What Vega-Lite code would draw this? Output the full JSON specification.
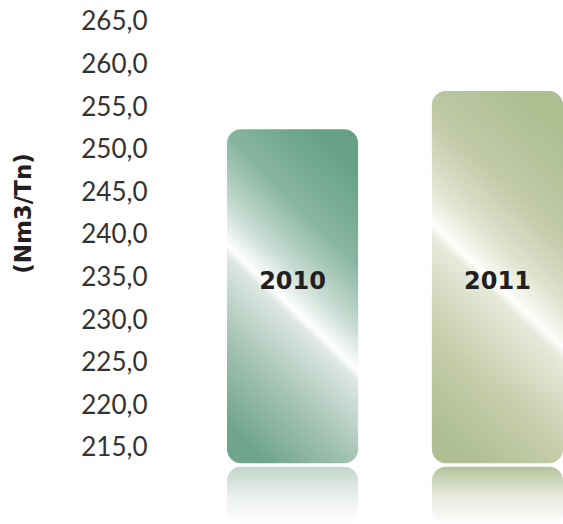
{
  "$schema": "https://vega.github.io/schema/vega-lite/v6.json",
  "width": 413,
  "height": 524,
  "autosize": {"type": "none"},
  "padding": {"left": 150, "top": 0, "right": 0, "bottom": 0},
  "background": "white",
  "config": {"view": {"stroke": null}},
  "data": {"values": [
    {"year": "2010", "value": 252.4},
    {"year": "2011", "value": 256.9}
  ]},
  "encoding": {
    "x": {"field": "year", "type": "nominal", "axis": null,
      "scale": {"range": [77, 413], "paddingInner": 0.36, "paddingOuter": 0}}
  },
  "layer": [
    {
      "transform": [{"filter": "datum.year == '2010'"}],
      "mark": {"type": "bar", "cornerRadius": 14,
        "fill": {"gradient": "linear", "x1": 0.69, "y1": 0, "x2": 0.31, "y2": 1,
          "stops": [
            {"offset": 0, "color": "#65a087"},
            {"offset": 0.25, "color": "#88b5a1"},
            {"offset": 0.42, "color": "#c6dbd1"},
            {"offset": 0.51, "color": "#f3f7f5"},
            {"offset": 0.53, "color": "#ffffff"},
            {"offset": 0.56, "color": "#dde7e2"},
            {"offset": 0.78, "color": "#a3c2b3"},
            {"offset": 1, "color": "#70a58d"}
          ]}},
      "encoding": {
        "y": {"field": "value", "type": "quantitative",
          "scale": {"domain": [206.08, 267.58], "nice": false, "zero": false},
          "axis": {"values": [215, 220, 225, 230, 235, 240, 245, 250, 255, 260, 265],
            "labelExpr": "replace(format(datum.value, '.1f'), '.', ',')",
            "domain": false, "ticks": false, "tickSize": 0, "grid": false,
            "labelPadding": 3, "labelFont": "Lato", "labelFontSize": 26,
            "labelColor": "#333333", "labelFontWeight": "normal",
            "title": "(Nm3/Tn)", "titleFont": "DejaVu Sans", "titleFontSize": 23,
            "titleFontWeight": "bold", "titleColor": "#231f20",
            "titleAngle": -90, "titleX": -127, "titleY": 213,
            "titleAlign": "center", "titleBaseline": "middle"}},
        "y2": {"datum": 213.2}
      }
    },
    {
      "transform": [{"filter": "datum.year == '2011'"}],
      "mark": {"type": "bar", "cornerRadius": 14,
        "fill": {"gradient": "linear", "x1": 0.666, "y1": 0, "x2": 0.334, "y2": 1,
          "stops": [
            {"offset": 0, "color": "#adbe91"},
            {"offset": 0.25, "color": "#c1c9a6"},
            {"offset": 0.42, "color": "#dfe4d0"},
            {"offset": 0.50, "color": "#f6f8f0"},
            {"offset": 0.52, "color": "#ffffff"},
            {"offset": 0.55, "color": "#e6eadb"},
            {"offset": 0.78, "color": "#c6cdaa"},
            {"offset": 1, "color": "#b0bf93"}
          ]}},
      "encoding": {
        "y": {"field": "value", "type": "quantitative"},
        "y2": {"datum": 213.2}
      }
    },
    {
      "transform": [{"filter": "datum.year == '2010'"}],
      "mark": {"type": "bar", "cornerRadius": 14,
        "fill": {"gradient": "linear", "x1": 0, "y1": 0, "x2": 0, "y2": 1,
          "stops": [
            {"offset": 0, "color": "#c2d5cb"},
            {"offset": 0.5, "color": "#eaf0ec"},
            {"offset": 1, "color": "#ffffff"}
          ]}},
      "encoding": {
        "y": {"datum": 212.8},
        "y2": {"datum": 206.0}
      }
    },
    {
      "transform": [{"filter": "datum.year == '2011'"}],
      "mark": {"type": "bar", "cornerRadius": 14,
        "fill": {"gradient": "linear", "x1": 0, "y1": 0, "x2": 0, "y2": 1,
          "stops": [
            {"offset": 0, "color": "#b3c299"},
            {"offset": 0.5, "color": "#e6eadb"},
            {"offset": 1, "color": "#ffffff"}
          ]}},
      "encoding": {
        "y": {"datum": 212.8},
        "y2": {"datum": 206.0}
      }
    },
    {
      "mark": {"type": "text", "font": "DejaVu Sans", "fontSize": 24, "fontWeight": "bold",
        "color": "#231f20", "baseline": "middle", "align": "center"},
      "encoding": {
        "y": {"datum": 234.5},
        "text": {"field": "year", "type": "nominal"}
      }
    }
  ]
}
